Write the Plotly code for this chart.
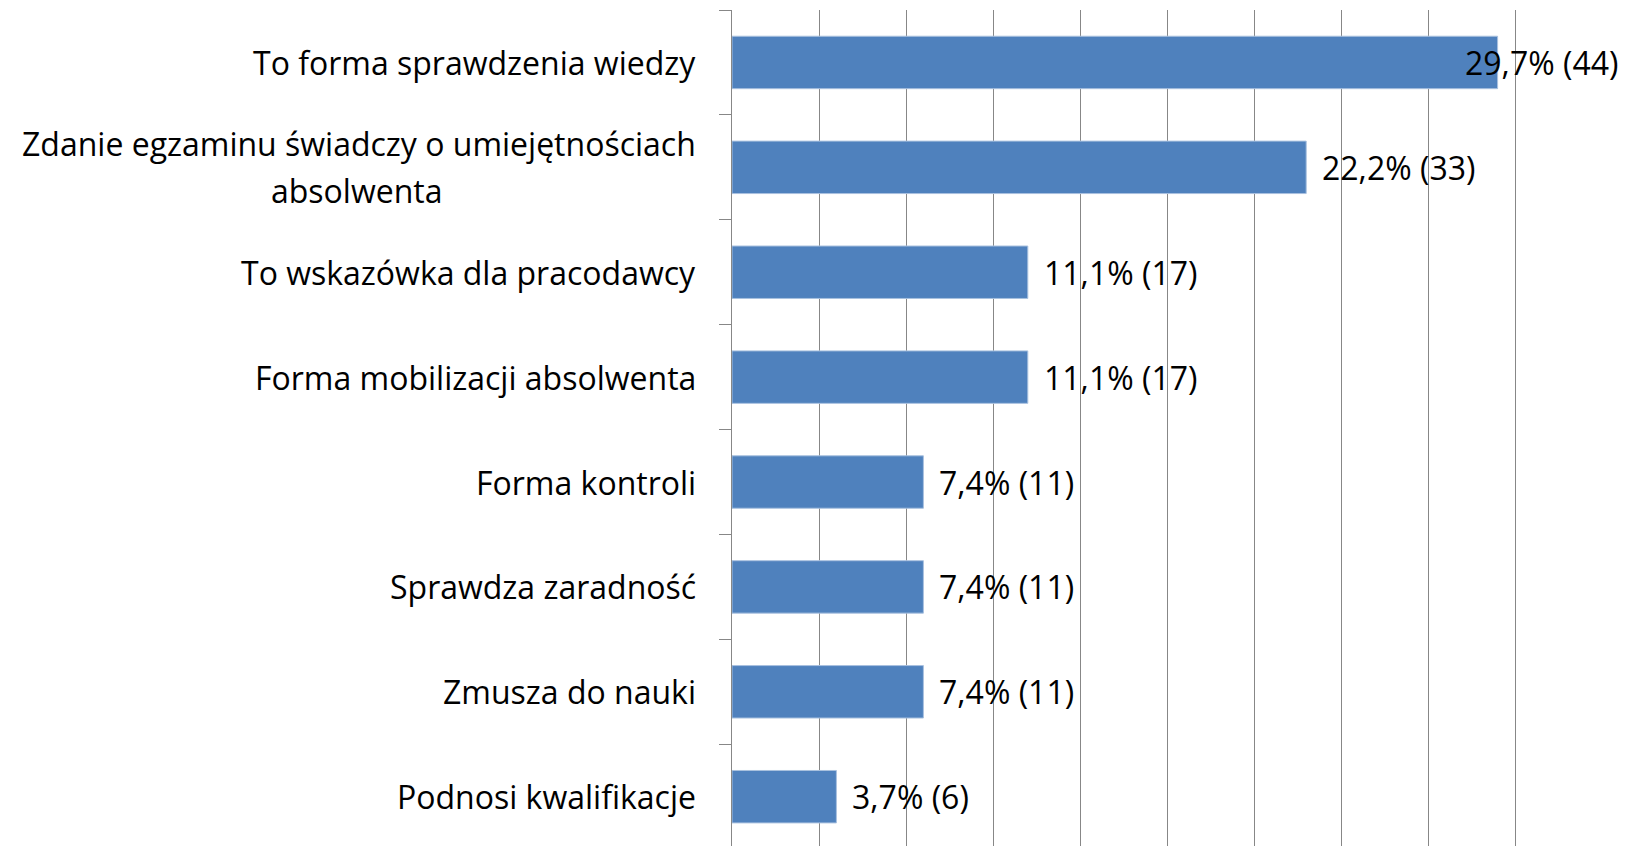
import plotly.graph_objects as go

# Survey answers, top to bottom
categories = [
    "To forma sprawdzenia wiedzy",
    "Zdanie egzaminu świadczy o umiejętnościach<br>absolwenta",
    "To wskazówka dla pracodawcy",
    "Forma mobilizacji absolwenta",
    "Forma kontroli",
    "Sprawdza zaradność",
    "Zmusza do nauki",
    "Podnosi kwalifikacje",
]
counts = [44, 33, 17, 17, 11, 11, 11, 6]
percents = ["29,7%", "22,2%", "11,1%", "11,1%", "7,4%", "7,4%", "7,4%", "3,7%"]

X_MAX = 50
FONT = "Open Sans"
FONT_SIZE = 32
GRID = "#878787"
BAR = "#4F81BD"
LABEL_GAP = -34          # px from the axis line to the right edge of category labels
LINE_STEP = 47           # px between wrapped label lines
WRAP_CENTER = -375       # px from the axis line to the centre of wrapped continuation lines

fig = go.Figure(
    go.Bar(
        x=counts,
        y=categories,
        orientation="h",
        width=0.5,
        marker=dict(color=BAR, line=dict(color="#A9C1DF", width=1)),
        hoverinfo="skip",
    )
)

# value labels: "percent (count)" next to each bar end, pulled left when near the edge
for cat, cnt, pct in zip(categories, counts, percents):
    near_edge = cnt > 0.8 * X_MAX
    fig.add_annotation(
        x=X_MAX if near_edge else cnt,
        y=cat,
        xref="x",
        yref="y",
        text=f"{pct} ({cnt})",
        showarrow=False,
        xanchor="right" if near_edge else "left",
        xshift=18 if near_edge else 14,
        font=dict(family=FONT, size=FONT_SIZE, color="black"),
    )

# category labels: first line right-aligned against the axis,
# continuation lines centred beneath it
for cat in categories:
    lines = cat.split("<br>")
    n = len(lines)
    for i, ln in enumerate(lines):
        first = i == 0
        fig.add_annotation(
            x=0,
            y=cat,
            xref="paper",
            yref="y",
            text=ln,
            showarrow=False,
            xanchor="right" if first else "center",
            xshift=LABEL_GAP if first else WRAP_CENTER,
            yshift=((n - 1) / 2 - i) * LINE_STEP,
            font=dict(family=FONT, size=FONT_SIZE, color="black"),
        )

fig.update_layout(
    width=1644,
    height=846,
    margin=dict(l=732, r=42, t=10, b=0),
    paper_bgcolor="white",
    plot_bgcolor="white",
    showlegend=False,
    bargap=0.5,
    xaxis=dict(
        range=[0, X_MAX],
        dtick=5,
        showgrid=True,
        gridcolor=GRID,
        gridwidth=1,
        zeroline=False,
        showticklabels=False,
        ticks="",
        showline=False,
    ),
    yaxis=dict(
        type="category",
        categoryorder="array",
        categoryarray=categories,
        range=[7.47, -0.5],
        showgrid=False,
        zeroline=False,
        showline=True,
        linecolor=GRID,
        linewidth=1,
        ticks="outside",
        tickson="boundaries",
        ticklen=12,
        tickcolor=GRID,
        tickwidth=1,
        showticklabels=False,
    ),
)

fig.write_html("out.html")
